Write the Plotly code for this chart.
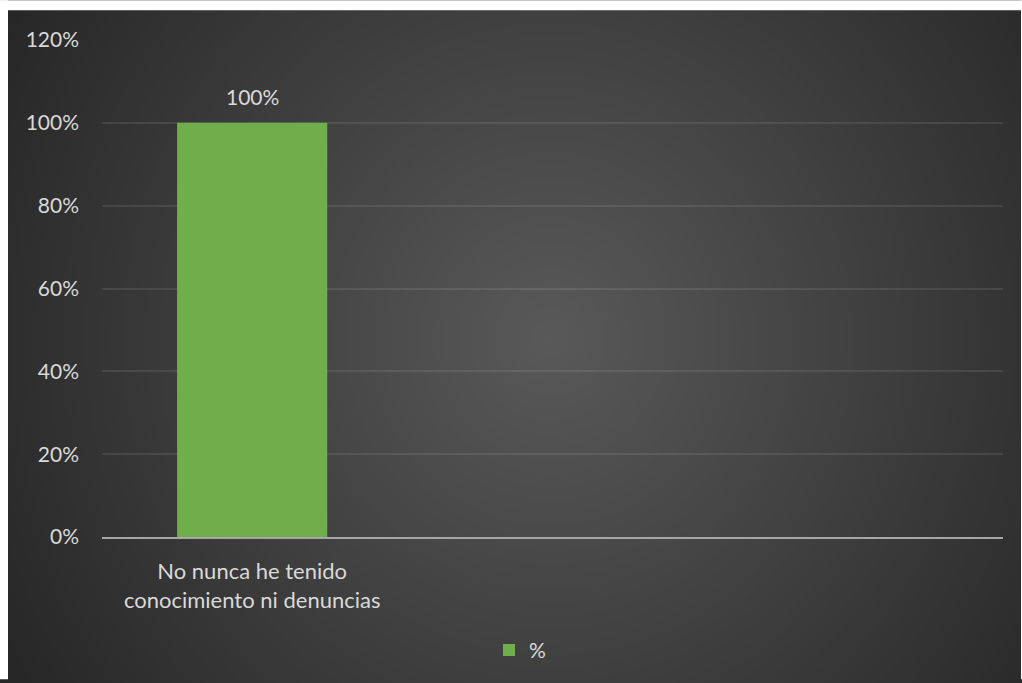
import base64
import struct
import zlib

import numpy as np
import plotly.graph_objects as go

# Chart data
categories = ["No nunca he tenido<br>conocimiento ni denuncias", "", ""]
values = [1.0, None, None]
series_name = "%"
y_ticks = [0, 0.2, 0.4, 0.6, 0.8, 1.0, 1.2]

# Figure geometry (pixels)
FIG_W, FIG_H = 1022, 683
M_L, M_R, M_T, M_B = 102, 19, 40, 143
PLOT_W = FIG_W - M_L - M_R
PLOT_H = FIG_H - M_T - M_B

# Chart area (dark panel) in pixels; bottom runs past the page edge
AREA_X0, AREA_Y0, AREA_X1, AREA_Y1 = 8, 10, 1021, 690
EDGE_GRAY = 0x27
CENTER_GRAY = 0x59


def gray_png(arr):
    """Encode a 2-D uint8 array as a grayscale PNG data URI."""
    h, w = arr.shape
    raw = b"".join(b"\x00" + arr[i].tobytes() for i in range(h))

    def chunk(tag, data):
        return (struct.pack(">I", len(data)) + tag + data
                + struct.pack(">I", zlib.crc32(tag + data) & 0xFFFFFFFF))

    png = (b"\x89PNG\r\n\x1a\n"
           + chunk(b"IHDR", struct.pack(">IIBBBBB", w, h, 8, 0, 0, 0, 0))
           + chunk(b"IDAT", zlib.compress(raw, 9))
           + chunk(b"IEND", b""))
    return "data:image/png;base64," + base64.b64encode(png).decode()


# Radial gradient panel background (page-pixel geometry)
aw, ah = AREA_X1 - AREA_X0, AREA_Y1 - AREA_Y0
yy, xx = np.mgrid[0:ah, 0:aw].astype(float)
xx += AREA_X0
yy += AREA_Y0
cx, cy, rx, ry = 550.0, 340.0, 620.0, 650.0
t = np.sqrt(((xx - cx) / rx) ** 2 + ((yy - cy) / ry) ** 2)
t = np.clip(t, 0, 1)
bg = (CENTER_GRAY + (EDGE_GRAY - CENTER_GRAY) * t).round().astype(np.uint8)
bg_uri = gray_png(bg)


def px_to_paper_x(px):
    return (px - M_L) / PLOT_W


def px_to_paper_y(py):
    return 1 - (py - M_T) / PLOT_H


text_color = "#d9d9d9"
font_family = "Lato, 'Open Sans', sans-serif"
edge_hex = "#{0:02x}{0:02x}{0:02x}".format(EDGE_GRAY)

x_pos = list(range(len(categories)))

fig = go.Figure()
fig.add_trace(go.Bar(
    x=x_pos,
    y=values,
    name=series_name,
    width=0.5,
    marker=dict(color="#6fae4a", line=dict(width=0)),
    showlegend=True,
))

# Data label above the bar
for xi, v in zip(x_pos, values):
    if v is not None:
        fig.add_annotation(
            x=xi, y=v, xref="x", yref="y",
            text=f"{v:.0%}", showarrow=False,
            yanchor="bottom", yshift=12,
            font=dict(family=font_family, size=21, color=text_color),
        )

# White page margin around the dark panel (top, left, right)
white_strips = [
    (0, 0, FIG_W, AREA_Y0),
    (0, 0, AREA_X0, FIG_H),
    (AREA_X1, 0, FIG_W, FIG_H),
]
for x0, y0, x1, y1 in white_strips:
    fig.add_shape(
        type="rect", xref="paper", yref="paper",
        x0=px_to_paper_x(x0), x1=px_to_paper_x(x1),
        y0=px_to_paper_y(y0), y1=px_to_paper_y(y1),
        fillcolor="#ffffff", line=dict(width=0), layer="above",
    )

fig.update_layout(
    width=FIG_W, height=FIG_H,
    margin=dict(l=M_L, r=M_R, t=M_T, b=M_B, pad=0),
    paper_bgcolor=edge_hex,
    plot_bgcolor="rgba(0,0,0,0)",
    font=dict(family=font_family, size=21, color=text_color),
    bargap=0.5,
    images=[dict(
        source=bg_uri, xref="paper", yref="paper",
        x=px_to_paper_x(AREA_X0), y=px_to_paper_y(AREA_Y0),
        sizex=aw / PLOT_W, sizey=ah / PLOT_H,
        xanchor="left", yanchor="top", sizing="stretch", layer="below",
    )],
    xaxis=dict(
        range=[-0.5, len(categories) - 0.5],
        tickmode="array", tickvals=x_pos, ticktext=categories,
        showgrid=False, zeroline=False,
        showline=True, linecolor="#a6a6a6", linewidth=2,
        ticks="", ticklabelstandoff=14,
        tickfont=dict(family=font_family, size=22, color=text_color),
    ),
    yaxis=dict(
        range=[0, 1.2], tickmode="array", tickvals=y_ticks,
        tickformat=".0%",
        showgrid=True, gridcolor="rgba(255,255,255,0.09)", gridwidth=1.5,
        zeroline=False, showline=False, ticks="",
        ticklabelstandoff=22,
        tickfont=dict(family=font_family, size=21, color=text_color),
    ),
    legend=dict(
        orientation="h",
        x=px_to_paper_x(520), xanchor="center",
        y=px_to_paper_y(654), yanchor="middle",
        font=dict(family=font_family, size=21, color=text_color),
        bgcolor="rgba(0,0,0,0)",
    ),
)

fig.write_html("out.html")
